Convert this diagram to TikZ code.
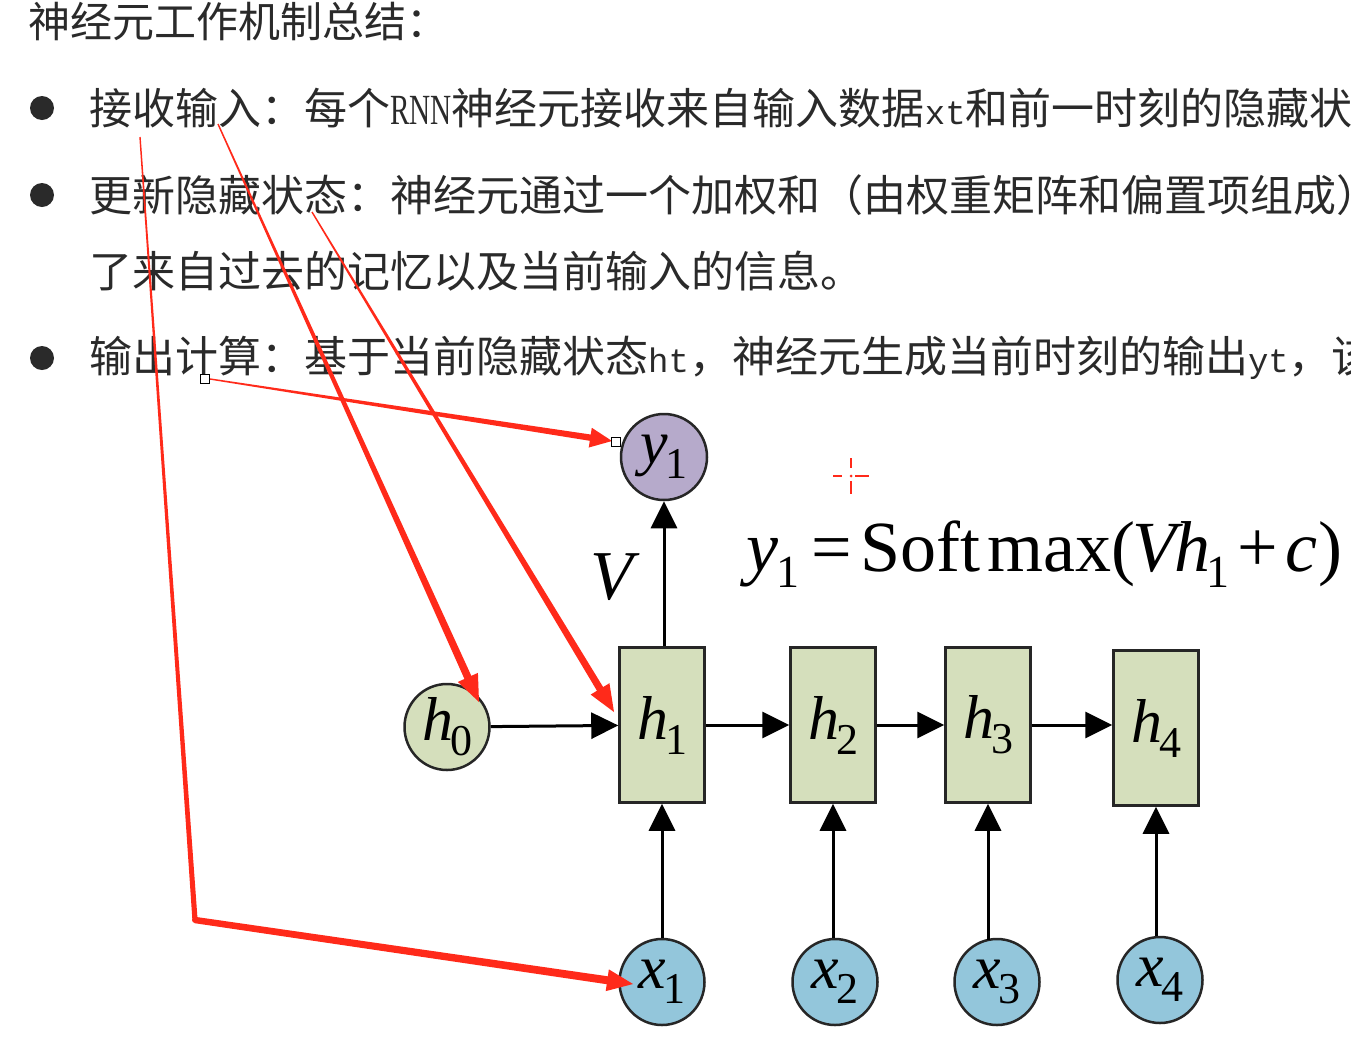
\documentclass[tikz,border=0pt]{standalone}
\usepackage{fontspec}
\setmainfont{Liberation Serif}
\newfontfamily\cjk{Noto Sans CJK SC}
\newfontfamily\tms{Liberation Serif}
\newfontfamily\tmsn[FakeStretch=0.68]{Liberation Serif}
\newfontfamily\mono{Liberation Mono}
\usetikzlibrary{arrows.meta,calc,shapes.geometric}
\definecolor{hgreen}{HTML}{D5DFBC}
\definecolor{xblue}{HTML}{93C6DB}
\definecolor{ylav}{HTML}{B6AACB}
\definecolor{txt}{HTML}{2A2A2A}
\definecolor{redline}{HTML}{FF2A1A}
\newcommand\var[2]{{\tms\fontsize{62}{62}\selectfont\itshape #1}\kern-3pt\raisebox{-15pt}{\tms\fontsize{44}{44}\selectfont #2}}
\newcommand\redtaper[4]{%
  \fill[redline] ($(#1)!#3!90:(#2)$) -- ($(#1)!#3!-90:(#2)$) -- ($(#2)!#4!90:(#1)$) -- ($(#2)!#4!-90:(#1)$) -- cycle;}
\newcommand\redhead[4]{%
  \coordinate (hb) at ($(#1)!#3!(#2)$);
  \fill[redline] (#1) -- ($(hb)!#4!90:(#2)$) -- ($(hb)!#4!-90:(#2)$) -- cycle;}
\begin{document}
\begin{tikzpicture}[x=1pt,y=-1pt,
  body/.style={anchor=west,inner sep=0pt,text=txt,font=\cjk\fontsize{43}{43}\selectfont},
  bul/.style={circle,fill=txt,minimum size=24pt,inner sep=0pt},
  hbox/.style={draw=black!85,line width=2.5pt,fill=hgreen,minimum width=85pt,minimum height=155pt,inner sep=0pt},
  hcirc/.style={ellipse,draw=black!85,line width=2.5pt,fill=hgreen,minimum width=85pt,minimum height=86pt,inner sep=0pt},
  xcirc/.style={ellipse,draw=black!85,line width=2.5pt,fill=xblue,minimum width=85pt,minimum height=86pt,inner sep=0pt},
  ycirc/.style={circle,draw=black!85,line width=2.5pt,fill=ylav,minimum size=86pt,inner sep=0pt},
  flow/.style={line width=3pt,-{Triangle[length=27pt,width=26pt]}},
  handle/.style={draw=black,fill=white,line width=1pt,minimum size=9pt,inner sep=0pt}
]
\useasboundingbox (0,0) rectangle (1351,1050);
\clip (0,0) rectangle (1351,1050);
\fill[white] (0,0) rectangle (1351,1050);

% ---------- text ----------
\node[body,font=\cjk\fontsize{42}{42}\selectfont] (title) at (28,22) {神经元工作机制总结：};
\node[bul] (b1) at (42,108) {};
\node[bul] (b2) at (42,195) {};
\node[bul] (b3) at (42,358) {};
\node[body] (l1) at (89,108) {接收输入：每个{\tmsn RNN}神经元接收来自输入数据{\mono\fontsize{34}{34}\selectfont xt}和前一时刻的隐藏状态};
\node[body] (l2) at (89,195) {更新隐藏状态：神经元通过一个加权和（由权重矩阵和偏置项组成）};
\node[body] (l2b) at (89,271) {了来自过去的记忆以及当前输入的信息。};
\node[body] (l3) at (89,358) {输出计算：基于当前隐藏状态{\mono\fontsize{34}{34}\selectfont ht}，神经元生成当前时刻的输出{\mono\fontsize{34}{34}\selectfont yt}，该};

% ---------- diagram ----------
\node[ycirc] (y1) at (664,457) {\raisebox{4pt}{\var{y}{1}}};
\node[hcirc] (h0) at (447,727) {\var{h}{0}};
\node[hbox] (h1) at (662,725) {\var{h}{1}};
\node[hbox] (h2) at (833,725) {\var{h}{2}};
\node[hbox] (h3) at (988,725) {\var{h}{3}};
\node[hbox] (h4) at (1156,728) {\var{h}{4}};
\node[xcirc] (x1) at (662,982) {\var{x}{1}};
\node[xcirc] (x2) at (835,982) {\var{x}{2}};
\node[xcirc] (x3) at (997,982) {\var{x}{3}};
\node[xcirc] (x4) at (1160,980) {\var{x}{4}};

\draw[flow] (h0) -- (h1);
\draw[flow] (h1) -- (h2);
\draw[flow] (h2) -- (h3);
\draw[flow] (h3) -- (h4.west |- h3.east);
\draw[flow] (h1.north -| y1.south) -- (y1);
\draw[flow] (x1) -- (h1);
\draw[flow] (x2.north -| h2.south) -- (h2.south);
\draw[flow] ([yshift=-2pt]x3.north -| h3.south) -- (h3.south);
\draw[flow] (x4.north -| h4.south) -- (h4.south);

\node[inner sep=0pt] (V) at (612,577) {\tms\fontsize{70}{70}\selectfont\itshape V};
\node[anchor=base west,inner sep=0pt] (eq) at (746,571) {\tms\fontsize{72}{72}\selectfont
  {\itshape y}\kern-2pt\raisebox{-16pt}{\fontsize{46}{46}\selectfont 1}\hspace{12pt}=\hspace{9pt}Soft\hspace{7pt}max(\kern-3pt{\itshape V\kern-2pt h}\kern-4pt\raisebox{-16pt}{\fontsize{46}{46}\selectfont 1}\hspace{8pt}+\hspace{7pt}{\itshape c}\kern1pt)};

% red cursor cross
\coordinate (cur) at (851,476);
\draw[redline,line width=2pt] ($(cur)+(-18,0)$) -- ($(cur)+(-9,0)$) ($(cur)+(4,0)$) -- ($(cur)+(18,0)$)
  ($(cur)+(0,-18)$) -- ($(cur)+(0,-8)$) ($(cur)+(0,5)$) -- ($(cur)+(0,18)$);
\fill[redline] (cur) circle (1.5pt);

% ---------- red annotation arrows ----------
\coordinate (s1) at (140,137);
\coordinate (c1) at (195,920);
\coordinate (t1) at (633,984);
\coordinate (s2) at (218,124);
\coordinate (t2) at (479,702);
\coordinate (s3) at (312,212);
\coordinate (t3) at (614,712);
\coordinate (t4) at (612,441);

\node[handle] (hs) at (205,379) {};
\node[handle] (he) at (616,442) {};

% arrow 1 (polyline to x1)
\redtaper{s1}{c1}{0.7pt}{2.6pt}
\fill[redline] (c1) circle (3pt);
\coordinate (t1b) at ($(t1)!24pt!(c1)$);
\redtaper{c1}{t1b}{3.2pt}{4pt}
\redhead{t1}{c1}{26pt}{11pt}

% arrow 2 (to h0)
\coordinate (t2b) at ($(t2)!24pt!(s2)$);
\redtaper{s2}{t2b}{0.7pt}{3.8pt}
\redhead{t2}{s2}{27pt}{11pt}

% arrow 3 (to h1)
\coordinate (t3b) at ($(t3)!24pt!(s3)$);
\redtaper{s3}{t3b}{0.7pt}{3.6pt}
\redhead{t3}{s3}{27pt}{11pt}

% arrow 4 (to y1)
\coordinate (t4b) at ($(t4)!18pt!(hs.east)$);
\redtaper{hs.east}{t4b}{0.7pt}{3.2pt}
\redhead{t4}{hs.east}{22pt}{10pt}
\node[handle] at (he) {};
\node[handle] at (hs) {};
\end{tikzpicture}
\end{document}
